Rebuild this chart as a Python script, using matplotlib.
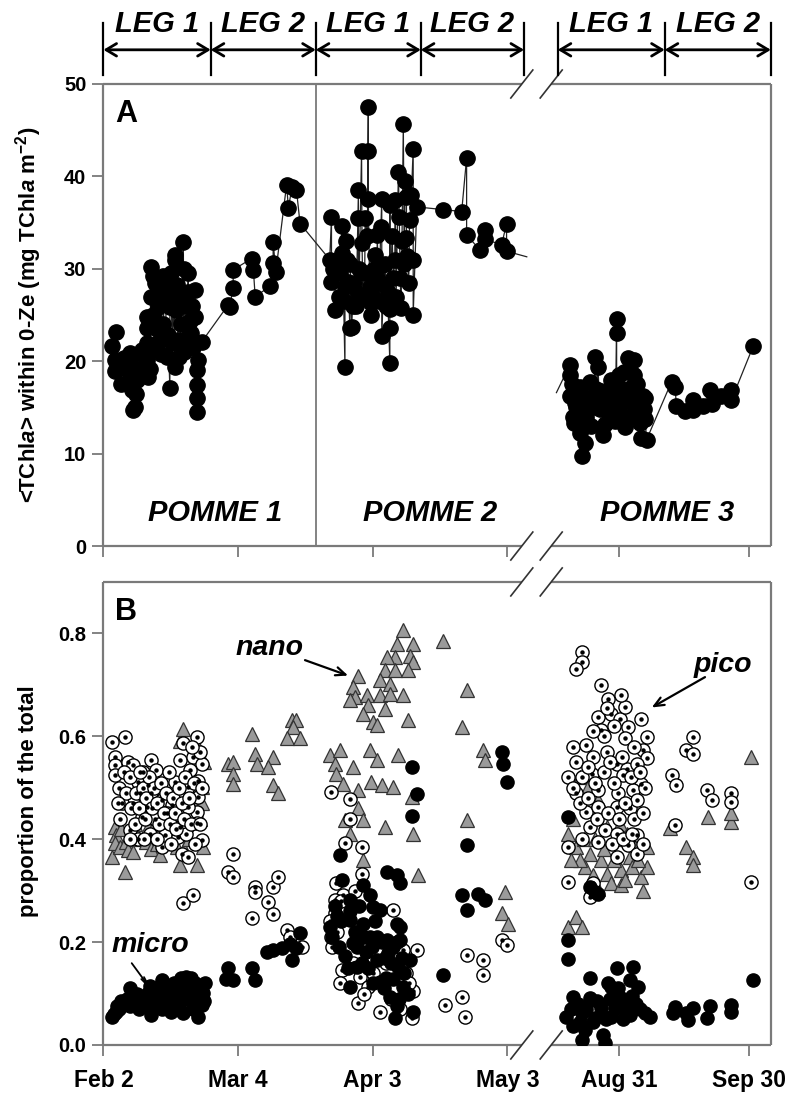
import numpy as np
import matplotlib
matplotlib.use("Agg")
import matplotlib.pyplot as plt
from matplotlib import transforms

plt.rcParams["font.family"] = ["Liberation Sans", "DejaVu Sans"]
plt.rcParams["font.weight"] = "bold"
plt.rcParams["mathtext.fontset"] = "custom"
plt.rcParams["mathtext.rm"] = "Liberation Sans:bold"
plt.rcParams["mathtext.it"] = "Liberation Sans:bold:italic"
plt.rcParams["mathtext.bf"] = "Liberation Sans:bold"

# ---- axis layout: days since Feb 2 (POMME 1-2), days since Aug 31 (POMME 3)
AUG31_POS = 114.8
AUG_SCALE = 0.965
X_MAX = 148.7

tick_feb_days = [0, 30, 60, 90]
tick_aug_days = [0, 30]
tick_labels = ["Feb 2", "Mar 4", "Apr 3", "May 3", "Aug 31", "Sep 30"]

leg_feb_bounds = [0, 23.9, 47.3, 70.7, 93.7]
leg_aug_bounds = [-14.1, 10.6, 35.1]
pomme_split_day = 47.3

# ---- panel A: <TChla> within 0-Ze
chl_feb_day = [1.8, 2.9, 2.6, 2.6, 3.5, 4.0, 4.5, 5.2, 5.9, 5.9, 5.9, 6.3, 6.6, 6.8, 7.0, 7.3, 7.5,
               8.0, 8.5, 9.0, 9.6, 9.8, 10.0, 10.3, 9.6, 9.6, 10.5, 10.7, 11.0, 11.0, 11.5, 11.5,
               12.0, 12.2, 12.5, 12.7, 12.8, 13.0, 13.3, 13.3, 13.8, 14.1, 14.4, 14.8, 14.8, 14.9,
               15.0, 15.3, 15.6, 15.9, 15.9, 16.0, 16.2, 16.4, 16.6, 16.9, 17.2, 17.5, 17.8, 17.9,
               18.0, 18.3, 18.6, 18.9, 18.9, 19.3, 19.5, 19.8, 20.0, 20.4, 20.5, 20.8, 20.8, 20.8,
               20.8, 21.1, 21.9,
               27.8, 28.1, 28.9, 28.9, 33.0, 33.4, 33.8, 37.1, 37.8, 37.8, 38.4, 40.8, 41.2, 42.0,
               43.0, 43.8,
               50.4, 50.8, 50.8, 51.2, 51.6, 52.0, 52.5, 52.8, 53.1, 53.1, 53.5, 53.8, 53.8, 54.0,
               54.2, 54.5, 54.9, 55.0, 55.3, 55.5, 55.8, 56.3, 56.8, 56.8, 56.8, 57.0, 57.5, 57.6,
               57.8, 58.2, 58.3, 58.8, 59.0, 59.0, 59.0, 59.3, 59.7, 59.7, 60.0, 60.3, 60.6, 60.9,
               61.0, 61.3, 61.8, 62.0, 62.0, 62.0, 62.4, 62.8, 63.0, 63.3, 63.8, 63.8, 63.8, 63.8,
               64.3, 64.6, 64.9, 65.0, 65.2, 65.7, 65.9, 66.1, 66.3, 66.5, 66.8, 67.0, 67.2, 67.5,
               67.5, 67.7, 68.0, 68.2, 68.6, 69.0, 69.0, 69.0, 69.8, 75.7, 79.8, 80.9, 80.9, 83.9,
               85.0, 85.0, 88.7, 89.8, 89.8]
chl_feb_val = [21.6, 23.2, 20.1, 18.9, 19.5, 17.5, 20.3, 19.2, 20.9, 19.8, 18.7, 16.9, 14.7, 17.8,
               15.0, 16.5, 18.0, 19.0, 21.2, 20.5, 20.1, 22.0, 18.3, 19.2, 23.6, 24.8, 27.0, 30.2,
               29.2, 25.0, 28.5, 21.5, 23.5, 25.9, 27.3, 22.3, 20.8, 26.5, 29.2, 24.0, 28.0, 20.5,
               22.8, 17.1, 27.3, 25.9, 29.5, 22.0, 26.8, 19.4, 31.5, 30.9, 25.5, 28.2, 22.3, 20.5,
               24.0, 27.0, 32.9, 21.0, 30.0, 26.0, 22.5, 29.5, 27.5, 24.4, 23.0, 26.0, 21.5, 27.7,
               24.8, 19.0, 17.4, 16.0, 14.5, 20.1, 22.1,
               26.1, 25.9, 27.9, 29.9, 31.1, 29.9, 27.0, 28.1, 30.6, 32.9, 29.7, 39.1, 36.6, 38.8,
               38.5, 34.9,
               31.0, 35.6, 28.6, 30.0, 25.5, 31.0, 26.9, 29.5, 34.6, 31.7, 26.5, 19.4, 28.0, 33.0,
               31.0, 28.6, 23.6, 30.5, 23.7, 26.0, 28.5, 26.0, 38.5, 35.5, 27.3, 30.0, 42.7, 32.8,
               27.0, 29.5, 35.5, 33.6, 47.5, 42.8, 37.6, 28.0, 26.3, 25.0, 27.0, 30.0, 31.5, 29.0,
               33.7, 26.5, 34.5, 37.6, 30.4, 22.7, 28.2, 30.5, 26.0, 27.5, 19.8, 23.6, 36.9, 25.6,
               33.5, 29.0, 31.0, 37.5, 27.0, 40.5, 35.6, 29.0, 25.8, 33.0, 45.7, 30.5, 39.5, 37.8,
               33.3, 31.4, 28.5, 35.3, 38.0, 43.0, 31.0, 25.0, 36.7, 36.4, 36.2, 42.0, 33.7, 32.0,
               34.2, 33.2, 32.6, 34.9, 31.9]
chl_feb_tail = (94.3, 31.3)

chl_aug_day = [-11.3, -11.3, -11.3, -10.8, -10.6, -10.3, -10.0, -9.8, -9.5, -9.0, -9.0, -8.7, -8.6,
               -8.2, -7.9, -7.5, -7.0, -6.7, -6.4, -6.0, -5.8, -5.5, -5.2, -4.8, -4.4, -4.0, -3.6,
               -3.2, -3.0, -2.5, -2.0, -1.7, -1.3, -1.0, -0.8, -0.5, -0.5, -0.5, -0.2, 0.0, 0.5,
               0.8, 1.0, 1.2, 1.4, 1.8, 2.2, 2.4, 2.6, 2.9, 3.0, 3.2, 3.4, 3.6, 4.0, 4.2, 4.4, 4.8,
               5.0, 5.2, 5.5, 5.8, 6.0, 6.1, 6.4, 12.2, 13.0, 13.3, 15.2, 17.2, 17.2, 19.5, 21.0,
               21.4, 23.7, 26.0, 26.0, 31.0]
chl_aug_val = [19.6, 18.5, 16.2, 17.5, 14.0, 13.3, 15.5, 15.0, 16.8, 17.2, 12.2, 12.9, 9.7, 14.8,
               11.1, 14.0, 16.0, 17.8, 13.0, 15.0, 15.9, 20.5, 17.0, 19.4, 14.8, 16.8, 12.0, 13.2,
               15.0, 16.0, 14.0, 18.0, 17.5, 15.5, 13.5, 24.6, 23.0, 16.5, 14.7, 18.5, 15.7, 14.0,
               17.0, 18.8, 12.9, 16.5, 20.3, 14.0, 19.0, 15.5, 16.5, 17.3, 18.5, 20.1, 16.0, 17.5,
               14.6, 13.3, 15.0, 11.7, 16.2, 14.8, 16.0, 13.7, 11.5, 17.8, 17.2, 15.1, 14.6, 15.8,
               14.7, 15.2, 16.9, 15.4, 16.2, 16.9, 15.8, 21.6]
chl_aug_head = (-14.4, 16.6)

# ---- panel B: size-class proportions
micro_feb_day = [1.8, 2.3, 2.9, 3.0, 3.5, 4.0, 4.8, 5.3, 5.9, 6.0, 6.5, 7.0, 7.5, 8.0, 8.5, 9.0,
                 9.5, 10.0, 10.3, 10.7, 11.2, 11.8, 12.0, 12.5, 13.0, 13.0, 13.5, 14.1, 14.1, 14.6,
                 15.0, 15.2, 15.5, 15.8, 16.0, 16.3, 16.8, 17.0, 17.3, 17.5, 17.8, 18.0, 18.5, 18.8,
                 19.3, 19.6, 19.8, 20.0, 20.4, 20.8, 21.1, 21.5, 21.6, 21.9, 22.2, 22.4, 22.6,
                 27.8, 27.4, 28.9, 33.0, 33.8, 36.4, 37.8, 39.7, 41.5, 41.9, 43.8, 43.0,
                 68.7, 69.8, 68.7, 52.7, 63.1, 65.3, 66.1, 53.1, 57.9, 54.9, 59.4, 60.1, 61.6, 50.5,
                 54.9, 57.9, 65.3, 66.1, 51.0, 55.6, 59.4, 63.1, 66.1, 53.8, 56.4, 60.9, 63.4, 65.7,
                 68.3, 54.9, 61.6, 64.6, 66.8, 63.8, 65.3, 69.0, 64.9, 52.0, 56.0, 58.5, 62.0, 57.0,
                 60.5, 64.0, 67.0, 59.0, 62.5, 51.5, 53.0, 55.0, 56.5, 58.0, 59.8, 61.0, 62.8, 64.5,
                 66.5, 67.8, 65.8, 63.0, 60.0, 57.5, 54.5, 52.5,
                 88.7, 88.9, 90.0, 80.9, 79.8, 83.5, 85.0, 80.9, 75.7]
micro_feb_val = [.055, .060, .065, .075, .070, .085, .080, .090, .110, .075, .085, .094, .100, .070,
                 .088, .075, .095, .101, .115, .058, .080, .110, .090, .105, .126, .070, .110, .094,
                 .075, .100, .065, .113, .090, .120, .105, .088, .075, .107, .130, .120, .062, .090,
                 .133, .110, .088, .130, .105, .070, .120, .085, .055, .095, .115, .078, .101, .085,
                 .120,
                 .149, .129, .126, .149, .126, .181, .184, .188, .197, .165, .217, .188,
                 .540, .488, .446, .369, .336, .330, .314, .320, .311, .282, .291, .269, .262, .230,
                 .243, .236, .236, .230, .210, .198, .210, .204, .204, .172, .152, .165, .178, .152,
                 .165, .113, .123, .129, .113, .094, .075, .065, .052, .250, .220, .180, .200, .270,
                 .240, .160, .140, .150, .110, .270, .240, .260, .190, .210, .190, .210, .170, .190,
                 .170, .100, .090, .130, .120, .160, .150, .190,
                 .570, .547, .512, .388, .291, .294, .282, .262, .136]

micro_aug_day = [-11.7, -11.7, -11.7, -6.7, -5.5, -4.8, -0.5, 3.3, -6.7, 2.5, -1.7, 4.5, -10.6, -6.7,
                 0.6, -4.0, -0.9, 2.2, -12.1, -8.6, -5.5, -1.7, 2.5, 6.0, -10.6, -7.9, -3.6, -8.6,
                 -3.2, -9.5, -2.0, 1.5, 4.0, -6.0, -11.0, -9.0, -7.5, -5.0, -3.0, -0.2, 1.0, 3.0,
                 5.0, -2.5, 7.2, 12.9, 12.5, 15.6, 17.2, 16.0, 20.3, 21.0, 26.0, 26.0, 31.0]
micro_aug_val = [.204, .168, .443, .307, .298, .294, .150, .152, .130, .126, .113, .113, .094, .091,
                 .091, .071, .071, .081, .055, .062, .052, .055, .058, .062, .036, .029, .019, .010,
                 .003, .080, .090, .070, .080, .045, .070, .045, .070, .085, .050, .110, .050, .095,
                 .070, .120, .055, .074, .062, .062, .071, .049, .052, .075, .078, .065, .126]

nano_feb_day = [1.8, 2.6, 2.9, 2.6, 3.8, 4.0, 4.8, 5.0, 5.5, 6.6, 7.0, 8.0, 9.5, 10.0, 10.5, 11.0,
                11.5, 12.0, 12.5, 13.5, 14.5, 15.0, 16.0, 16.3, 17.0, 17.0, 17.8, 18.0, 18.5, 19.0,
                20.0, 20.8, 21.0, 21.5, 21.9, 22.0, 22.2, 22.3,
                27.8, 28.9, 28.9, 28.9, 33.0, 33.8, 34.1, 37.8, 36.7, 37.8, 38.9, 41.9, 43.0, 42.3,
                40.8, 43.8,
                66.8, 69.0, 65.3, 64.9, 68.3, 63.1, 69.0, 62.7, 64.9, 67.9, 56.8, 61.6, 63.8, 55.6,
                56.0, 58.6, 61.6, 63.8, 66.8, 54.9, 59.0, 62.7, 57.9, 60.1, 60.9, 67.9, 75.7, 80.9,
                79.8, 50.5, 52.7, 51.6, 51.9, 55.6, 59.4, 60.9, 65.7, 59.7, 62.0, 64.6, 53.4, 56.8,
                68.7, 56.8, 57.9, 62.7, 69.0, 53.8, 54.9, 57.9, 70.1, 84.6, 85.0, 80.9, 89.4, 88.7,
                90.2]
nano_feb_val = [.366, .424, .408, .392, .385, .420, .337, .395, .379, .375, .430, .400, .395, .424,
                .380, .450, .430, .390, .370, .400, .420, .455, .440, .385, .350, .590, .615, .380,
                .430, .400, .470, .350, .580, .440, .501, .470, .385, .550,
                .547, .550, .527, .508, .605, .566, .547, .560, .541, .505, .489, .631, .631, .618,
                .596, .596,
                .806, .780, .780, .754, .757, .754, .745, .728, .728, .728, .718, .709, .702, .696,
                .676, .680, .680, .683, .680, .670, .660, .654, .644, .628, .621, .631, .786, .689,
                .618, .563, .573, .547, .527, .540, .573, .553, .563, .511, .505, .501, .508, .495,
                .482, .460, .437, .424, .411, .437, .411, .359, .330, .573, .553, .437, .298, .256,
                .236]

nano_aug_day = [30.6, -11.7, -9.8, -8.6, -9.0, -7.1, -4.8, -11.7, -2.8, 0.2, -9.8, -6.7, -4.0, -7.9,
                -2.8, 0.6, -1.7, 0.6, 5.2, 6.4, 2.5, 6.4, -4.8, -10.5, -8.0, -5.5, -3.5, -1.0, 1.5,
                3.0, 4.5, -6.0, -0.5, 2.0, 5.5, -9.0, -11.0, 3.8,
                15.6, 17.2, 17.2, 11.8, 20.6, 26.0, 26.0]
nano_aug_val = [.560, .230, .249, .230, .521, .501, .476, .411, .424, .430, .385, .372, .359, .346,
                .333, .340, .314, .311, .327, .346, .366, .385, .304, .440, .400, .400, .380, .360,
                .320, .345, .360, .330, .400, .410, .300, .360, .360, .390,
                .385, .366, .350, .421, .443, .433, .450]

pico_feb_day = [1.8, 4.8, 2.6, 2.6, 2.6, 5.5, 6.6, 8.9, 10.7, 11.8, 7.8, 10.0, 8.1, 10.7, 13.0, 6.6,
                9.6, 15.2, 8.5, 11.4, 14.1, 5.9, 7.8, 10.3, 13.0, 13.7, 16.7, 17.0, 17.4, 18.9, 15.9,
                17.0, 17.8, 20.8, 20.0, 21.9, 19.3, 21.1, 18.9, 21.1, 20.8, 18.9, 20.8, 18.5, 21.9,
                17.8, 20.0, 3.5, 4.2, 3.8, 4.5, 5.0, 6.0, 6.2, 7.2, 7.0, 8.0, 8.8, 9.2, 9.5, 10.2,
                10.9, 11.3, 12.0, 12.4, 12.8, 13.5, 14.0, 14.5, 14.8, 15.5, 16.0, 16.2, 16.8, 17.5,
                18.0, 18.2, 19.0, 19.5, 20.2, 20.5, 21.5, 21.5, 19.8, 22.0, 6.0, 9.0, 12.0, 15.0,
                3.2, 8.2,
                28.9, 27.8, 28.9, 33.0, 33.8, 33.8, 37.8, 36.7, 37.8, 38.9, 40.8, 41.5, 44.2,
                50.8, 54.9, 54.9, 53.8, 57.5, 57.5, 51.9, 53.4, 51.6, 51.6, 64.6, 69.8, 66.8, 53.1,
                52.7, 57.1, 59.0, 56.8, 61.6, 69.0, 68.7, 50.5, 52.0, 51.0, 55.5, 58.0, 60.0, 62.5,
                64.0, 66.0, 63.0, 67.5, 53.0, 56.0, 68.0, 65.5, 50.8,
                80.9, 84.6, 84.6, 79.8, 76.1, 80.5, 88.7, 89.8]
pico_feb_val = [.589, .599, .560, .544, .525, .550, .544, .531, .553, .534, .511, .505, .489, .489,
                .476, .470, .463, .466, .443, .440, .450, .417, .401, .411, .385, .408, .404, .424,
                .372, .366, .511, .553, .586, .599, .560, .547, .534, .514, .501, .482, .453, .463,
                .431, .411, .398, .275, .291, .500, .470, .440, .530, .490, .520, .460, .490, .430,
                .460, .500, .440, .480, .520, .460, .500, .470, .430, .510, .450, .490, .530, .430,
                .480, .450, .420, .500, .470, .440, .520, .480, .430, .510, .390, .430, .570, .580,
                .500, .400, .400, .400, .390, .470, .530,
                .372, .337, .326, .246, .307, .297, .307, .278, .255, .327, .223, .210, .191,
                .492, .479, .440, .392, .385, .333, .314, .291, .282, .256, .262, .184, .184, .146,
                .120, .133, .113, .081, .065, .104, .052, .240, .220, .190, .160, .100, .140, .120,
                .090, .070, .160, .140, .280, .300, .120, .200, .210,
                .175, .165, .136, .094, .078, .055, .204, .194]

pico_aug_day = [-8.6, -8.6, -9.8, -4.0, -2.5, -4.8, -4.0, -1.7, 0.2, 1.4, 2.2, 1.4, 5.2, 6.4, 5.6,
                6.4, -10.6, -7.5, -9.8, -5.9, -2.8, -0.5, 1.8, 4.1, -11.7, -6.3, 1.0, 5.2, -9.8,
                -4.8, -0.2, 3.3, -7.5, -4.8, -0.5, 2.5, 4.1, -6.7, -3.2, -0.5, 4.1, -11.7, -4.8, 2.2,
                -0.5, 4.1, -11.7, -5.9, -6.7, -10.5, -8.5, -7.0, -5.5, -3.5, -2.0, -1.0, 0.8, 2.8,
                4.8, 6.0, -9.0, -7.0, -5.0, -2.5, 0.0, 1.5, 3.5, 5.5, -8.5, -1.5, 1.0, 3.0, 5.5,
                -3.5, -1.0, 3.5, -6.0, 0.5, -2.8,
                17.2, 15.6, 17.2, 12.2, 13.3, 20.3, 21.4, 26.0, 26.0, 12.9, 30.6]
pico_aug_val = [.764, .745, .731, .699, .673, .638, .612, .644, .634, .657, .618, .596, .634, .599,
                .573, .557, .579, .583, .550, .560, .570, .547, .537, .547, .521, .527, .524, .508,
                .489, .495, .489, .495, .453, .463, .463, .460, .476, .424, .417, .411, .408, .385,
                .395, .388, .366, .372, .317, .314, .288, .500, .520, .540, .510, .530, .550, .510,
                .560, .520, .530, .500, .470, .480, .440, .450, .440, .470, .440, .450, .400, .390,
                .400, .410, .390, .600, .620, .580, .610, .680, .655,
                .599, .573, .566, .524, .505, .495, .476, .489, .472, .427, .317]


def feb_pos(days):
    return np.asarray(days, dtype=float)


def aug_pos(days):
    return AUG31_POS + np.asarray(days, dtype=float) * AUG_SCALE


GRAY = "#7a7a7a"
GAP0, GAP1 = 0.627, 0.671


def draw_frame(ax):
    for s in ax.spines.values():
        s.set_visible(False)
    kw = dict(transform=ax.transAxes, color=GRAY, lw=1.6, clip_on=False, solid_capstyle="butt")
    ax.plot([0, 0], [0, 1], **kw)
    ax.plot([1, 1], [0, 1], **kw)
    for yy in (0, 1):
        ax.plot([0, GAP0], [yy, yy], **kw)
        ax.plot([GAP1, 1], [yy, yy], **kw)
    # break marks
    bb = ax.get_position()
    fw, fh = ax.figure.get_size_inches() * ax.figure.dpi
    dx = 11 / (bb.width * fw)
    dy = 14 / (bb.height * fh)
    for gx in (GAP0, GAP1):
        for yy in (0, 1):
            ax.plot([gx - dx, gx + dx], [yy - dy, yy + dy], transform=ax.transAxes,
                    color="#333333", lw=1.2, clip_on=False)


def style_axes(ax, show_xlabels):
    ax.set_xlim(-0.1, X_MAX)
    ticks = list(feb_pos(tick_feb_days)) + list(aug_pos(tick_aug_days))
    ax.set_xticks(ticks)
    ax.set_xticklabels(tick_labels if show_xlabels else [""] * len(ticks))
    ax.tick_params(axis="x", direction="out", length=8, width=1.3, color=GRAY,
                   labelsize=16.5, pad=9, top=False)
    ax.tick_params(axis="y", direction="out", length=8, width=1.3, color=GRAY,
                   labelsize=14.5, pad=4, right=False)
    for lab in ax.get_xticklabels() + ax.get_yticklabels():
        lab.set_fontweight("bold")
    draw_frame(ax)


def by_day(days, vals):
    order = np.argsort(np.asarray(days), kind="stable")
    return np.asarray(days)[order], np.asarray(vals)[order]


fig = plt.figure(figsize=(7.88, 10.98), dpi=100)
ax_a = fig.add_axes([0.1307, 0.5027, 0.8477, 0.4208])
ax_b = fig.add_axes([0.1307, 0.0483, 0.8477, 0.4217])

# ---- panel A
fd, fv = by_day(chl_feb_day, chl_feb_val)
ad, av = by_day(chl_aug_day, chl_aug_val)
line_x = np.concatenate([feb_pos(fd), feb_pos([chl_feb_tail[0]])])
line_y = np.concatenate([fv, [chl_feb_tail[1]]])
ax_a.plot(line_x, line_y, color="#222222", lw=0.9, zorder=2)
ax_a.plot(feb_pos(fd), fv, "o", color="black", ms=11, zorder=3)
line_x = np.concatenate([aug_pos([chl_aug_head[0]]), aug_pos(ad)])
line_y = np.concatenate([[chl_aug_head[1]], av])
ax_a.plot(line_x, line_y, color="#222222", lw=0.9, zorder=2)
ax_a.plot(aug_pos(ad), av, "o", color="black", ms=11, zorder=3)

ax_a.axvline(pomme_split_day, color=GRAY, lw=1.3, zorder=1)
ax_a.set_ylim(0, 50)
ax_a.set_yticks([0, 10, 20, 30, 40, 50])
style_axes(ax_a, False)

ax_a.text(0.018, 0.935, "A", transform=ax_a.transAxes, fontsize=22, fontweight="bold",
          ha="left", va="center")
pomme_text = dict(fontsize=21, fontweight="bold", fontstyle="italic", ha="center", va="center")
ax_a.text(feb_pos(24.8), 3.6, "POMME 1", **pomme_text)
ax_a.text(feb_pos(72.7), 3.6, "POMME 2", **pomme_text)
ax_a.text(aug_pos(11.1), 3.6, "POMME 3", **pomme_text)

# cruise legs above panel A
blend = transforms.blended_transform_factory(ax_a.transData, ax_a.transAxes)
for bounds, conv in ((leg_feb_bounds, feb_pos), (leg_aug_bounds, aug_pos)):
    xs = conv(bounds)
    for xv in xs:
        ax_a.plot([xv, xv], [1.019, 1.132], transform=blend, color="black", lw=1.6,
                  clip_on=False)
    for i in range(len(xs) - 1):
        ax_a.annotate("", xy=(xs[i + 1], 1.074), xytext=(xs[i], 1.074), xycoords=blend,
                      textcoords=blend,
                      arrowprops=dict(arrowstyle="<->,head_length=0.75,head_width=0.45",
                                      lw=2.0, color="black", shrinkA=0, shrinkB=0))
        label = "LEG 1" if i % 2 == 0 else "LEG 2"
        ax_a.text((xs[i] + xs[i + 1]) / 2, 1.13, label, transform=blend, fontsize=21,
                  fontweight="bold", fontstyle="italic", ha="center", va="center")

# ---- panel B
nano_kw = dict(marker="^", ls="none", ms=10, mfc="#9a9a9a", mec="#333333", mew=0.9)
pico_kw = dict(marker="o", ls="none", ms=9.5, mfc="white", mec="black", mew=1.0)
dot_kw = dict(marker="o", ls="none", ms=2.2, color="black")
micro_kw = dict(marker="o", ls="none", ms=9.5, color="black")

for conv, nd, nv in ((feb_pos, nano_feb_day, nano_feb_val), (aug_pos, nano_aug_day, nano_aug_val)):
    ax_b.plot(conv(nd), nv, zorder=2, **nano_kw)
for conv, pd_, pv in ((feb_pos, pico_feb_day, pico_feb_val), (aug_pos, pico_aug_day, pico_aug_val)):
    ax_b.plot(conv(pd_), pv, zorder=3, **pico_kw)
    ax_b.plot(conv(pd_), pv, zorder=3, **dot_kw)
for conv, md, mv in ((feb_pos, micro_feb_day, micro_feb_val), (aug_pos, micro_aug_day, micro_aug_val)):
    ax_b.plot(conv(md), mv, zorder=4, **micro_kw)

ax_b.set_ylim(0, 0.9)
ax_b.set_yticks([0.0, 0.2, 0.4, 0.6, 0.8])
ax_b.set_yticklabels(["0.0", "0.2", "0.4", "0.6", "0.8"])
style_axes(ax_b, True)

ax_b.text(0.018, 0.935, "B", transform=ax_b.transAxes, fontsize=22, fontweight="bold",
          ha="left", va="center")
ann_text = dict(fontsize=20.5, fontweight="bold", fontstyle="italic", ha="center", va="center")
ax_b.text(feb_pos(37.1), 0.771, "nano", **ann_text)
ax_b.annotate("", xy=(feb_pos(54.5), 0.718), xytext=(feb_pos(44.9), 0.748),
              arrowprops=dict(arrowstyle="->,head_length=0.7,head_width=0.3", lw=1.6,
                              color="black", shrinkA=0, shrinkB=0), zorder=6)
ax_b.text(aug_pos(24.0), 0.738, "pico", **ann_text)
ax_b.annotate("", xy=(aug_pos(7.6), 0.656), xytext=(aug_pos(19.9), 0.715),
              arrowprops=dict(arrowstyle="->,head_length=0.7,head_width=0.3", lw=1.6,
                              color="black", shrinkA=0, shrinkB=0), zorder=6)
ax_b.text(feb_pos(10.4), 0.194, "micro", **ann_text)
ax_b.annotate("", xy=(feb_pos(11.0), 0.103), xytext=(feb_pos(6.3), 0.159),
              arrowprops=dict(arrowstyle="->,head_length=0.8,head_width=0.12", lw=1.3,
                              color="black", shrinkA=0, shrinkB=0), zorder=6)

fig.text(0.036, 0.713, "<TChl$\\it{a}$> within 0-Ze (mg TChl$\\it{a}$ m$^{\\mathrm{-2}}$)",
         rotation=90, ha="center", va="center", fontsize=16, fontweight="bold")
fig.text(0.036, 0.27, "proportion of the total", rotation=90, ha="center", va="center",
         fontsize=16, fontweight="bold")

fig.savefig("out.png", dpi=100)
